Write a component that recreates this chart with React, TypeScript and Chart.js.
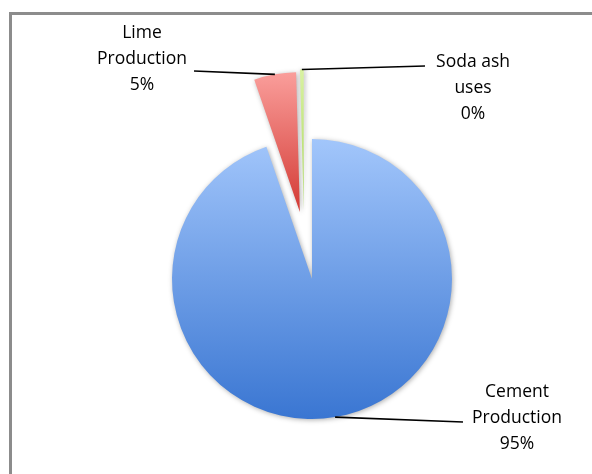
import React, { useEffect, useRef } from "react";
import { Chart, registerables } from "chart.js";

Chart.register(...registerables);

// ---- data ----
const CATEGORIES: string[][] = [
  ["Cement", "Production"],
  ["Lime", "Production"],
  ["Soda ash", "uses"],
];
const VALUES: number[] = [94.72, 4.85, 0.43];

// ---- styles ----
const COLORS_TOP = ["#a2c6fb", "#fa9e9b", "#d9f2a2"];
const COLORS_BOTTOM = ["#3a76d2", "#d33a34", "#a9d65c"];
const EXPLODE = [0, 68, 70];
const EXPLODE_SKEW_DEG = [0, 0, -6];
const RADIUS = 140;
const LABEL_POS: number[][] = [
  [205, 139],
  [-170, -220],
  [161, -191],
];
const LINE_END: number[][] = [
  [151, 143],
  [-118, -208],
  [113, -213],
];
const FONT = '17.5px "Open Sans"';
const LINE_H = 26;

function explodeVector(mid: number, i: number) {
  const a = mid + (EXPLODE_SKEW_DEG[i] * Math.PI) / 180;
  return [Math.cos(a) * EXPLODE[i], Math.sin(a) * EXPLODE[i]];
}

function sliceGradient(c: any) {
  const chart = c.chart;
  const area = chart.chartArea;
  const i = c.dataIndex;
  if (!area || i === undefined) return COLORS_TOP[i ?? 0];
  const vals: number[] = chart.data.datasets[0].data;
  const total = vals.reduce((a, b) => a + b, 0);
  let start = -Math.PI / 2;
  for (let j = 0; j < i; j++) start += (vals[j] / total) * Math.PI * 2;
  const end = start + (vals[i] / total) * Math.PI * 2;
  const mid = (start + end) / 2;
  const [dx, dy] = explodeVector(mid, i);
  const cy = (area.top + area.bottom) / 2 + dy;
  let ymin = cy;
  let ymax = cy;
  for (let k = 0; k <= 64; k++) {
    const a = start + ((end - start) * k) / 64;
    const y = cy + RADIUS * Math.sin(a);
    ymin = Math.min(ymin, y);
    ymax = Math.max(ymax, y);
  }
  const g = chart.ctx.createLinearGradient(0, ymin, 0, ymax);
  g.addColorStop(0, COLORS_TOP[i]);
  g.addColorStop(1, COLORS_BOTTOM[i]);
  return g;
}

const explodePlugin = {
  id: "explodeSlices",
  afterDatasetsUpdate(chart: any) {
    const meta = chart.getDatasetMeta(0);
    meta.data.forEach((arc: any, i: number) => {
      const mid = (arc.startAngle + arc.endAngle) / 2;
      const [dx, dy] = explodeVector(mid, i);
      arc.x += dx;
      arc.y += dy;
    });
  },
  beforeDatasetsDraw(chart: any) {
    const ctx = chart.ctx;
    ctx.save();
    ctx.shadowColor = "rgba(0,0,0,0.32)";
    ctx.shadowBlur = 5;
    ctx.shadowOffsetX = 1;
    ctx.shadowOffsetY = 1;
  },
  afterDatasetsDraw(chart: any) {
    const ctx = chart.ctx;
    ctx.restore();
    const area = chart.chartArea;
    const pcx = (area.left + area.right) / 2;
    const pcy = (area.top + area.bottom) / 2;
    const meta = chart.getDatasetMeta(0);
    const vals: number[] = chart.data.datasets[0].data;
    const total = vals.reduce((a, b) => a + b, 0);
    ctx.save();
    meta.data.forEach((arc: any, i: number) => {
      const mid = (arc.startAngle + arc.endAngle) / 2;
      const ax = arc.x + Math.cos(mid) * arc.outerRadius;
      const ay = arc.y + Math.sin(mid) * arc.outerRadius;
      ctx.beginPath();
      ctx.strokeStyle = "#000";
      ctx.lineWidth = 1.6;
      ctx.moveTo(ax, ay);
      ctx.lineTo(pcx + LINE_END[i][0], pcy + LINE_END[i][1]);
      ctx.stroke();
      const lines = [...(chart.data.labels[i] as string[]), Math.round((vals[i] / total) * 100) + "%"];
      ctx.font = FONT;
      ctx.fillStyle = "#000";
      ctx.textAlign = "center";
      ctx.textBaseline = "middle";
      const lx = pcx + LABEL_POS[i][0];
      const ly = pcy + LABEL_POS[i][1];
      lines.forEach((t, k) => {
        ctx.fillText(t, lx, ly + (k - (lines.length - 1) / 2) * LINE_H);
      });
    });
    ctx.restore();
  },
};

export default function App() {
  const ref = useRef<HTMLCanvasElement | null>(null);
  useEffect(() => {
    if (!ref.current) return;
    const chart = new Chart(ref.current, {
      type: "pie",
      data: {
        labels: CATEGORIES as any,
        datasets: [
          {
            data: VALUES,
            backgroundColor: sliceGradient as any,
            borderWidth: 0,
            radius: RADIUS,
          } as any,
        ],
      },
      options: {
        responsive: false,
        animation: false,
        events: [],
        layout: { padding: { left: 32, top: 84, right: 0, bottom: 0 } },
        plugins: {
          legend: { display: false },
          tooltip: { enabled: false },
          title: { display: false },
        },
      },
      plugins: [explodePlugin as any],
    });
    return () => chart.destroy();
  }, []);
  return (
    <div
      style={{
        position: "fixed",
        left: 0,
        top: 0,
        width: 592,
        height: 474,
        overflow: "hidden",
        background: "#fff",
      }}
    >
      <div
        style={{
          position: "absolute",
          left: 9,
          top: 12,
          width: 800,
          height: 800,
          border: "3px solid #8c8c8c",
          boxSizing: "border-box",
        }}
      />
      <canvas
        ref={ref}
        width={592}
        height={474}
        style={{ position: "absolute", left: 0, top: 0, display: "block" }}
      />
    </div>
  );
}
